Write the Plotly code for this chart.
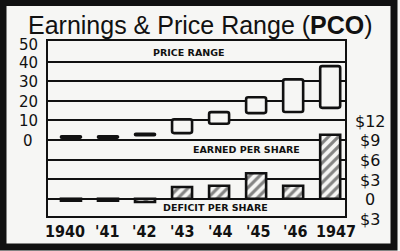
import plotly.graph_objects as go

# ---- data ----
years = ["1940", "'41", "'42", "'43", "'44", "'45", "'46", "1947"]
price_low = [1.2, 1.2, 2.4, 3.5, 8.3, 13.7, 14.3, 16.4]
price_high = [1.9, 1.9, 3.2, 10.5, 14.2, 21.8, 30.9, 37.7]
earnings = [-0.3, -0.3, -0.5, 1.8, 2.0, 3.9, 2.0, 9.8]

price_ticks = [50, 40, 30, 20, 10, 0]
price_tick_text = ["50", "40", "30", "20", "10", "0"]
eps_ticks = [12, 9, 6, 3, 0, -3]
eps_tick_text = ["$12", "$9", "$6", "$3", "0", "$3"]
grid_vals = [-30, -20, -10, 0, 10, 20, 30, 40]

# ---- styling ----
BG = "#f6f6f4"
INK = "#111111"
W, H = 400, 251
L, R, T, B = 48, 55, 41, 35
P_RANGE = [-38.8, 50.5]
E_RANGE = [9 + 0.3 * p for p in P_RANGE]
year_label_shift = [-6, -1, -1, 0, 1, 2, 2, 6]

def px_x(X):
    return (X - L) / (W - L - R)

def px_y(Y):
    return (H - B - Y) / (H - T - B)

def e_to_paper(e):
    return (e - E_RANGE[0]) / (E_RANGE[1] - E_RANGE[0])

xs = list(range(len(years)))

fig = go.Figure()
fig.add_trace(go.Bar(
    x=xs, y=[h - l for h, l in zip(price_high, price_low)], base=price_low,
    width=0.54, yaxis="y",
    marker=dict(color=BG, line=dict(color=INK, width=2.6), cornerradius=2),
    hoverinfo="skip", showlegend=False,
))
fig.add_trace(go.Bar(
    x=xs, y=earnings, width=0.54, yaxis="y2",
    marker=dict(color=BG,
                pattern=dict(shape="/", fgcolor=INK, bgcolor=BG, size=7, solidity=0.45),
                line=dict(color=INK, width=2.6)),
    hoverinfo="skip", showlegend=False,
))

ann = []
ann.append(dict(text="Earnings & Price Range (<b>PCO</b>)", xref="paper", yref="paper",
                x=px_x(200), y=px_y(25), xanchor="center", yanchor="middle",
                showarrow=False, font=dict(family="Liberation Sans, Arial", size=25, color=INK)))
for v, t in zip(price_ticks, price_tick_text):
    ann.append(dict(text=t, xref="paper", yref="y", x=px_x(28), y=v, xanchor="center",
                    yanchor="middle", showarrow=False, yshift=-3 if v == 50 else -1,
                    font=dict(family="DejaVu Sans", size=15, color=INK)))
for v, t in zip(eps_ticks, eps_tick_text):
    ann.append(dict(text=t, xref="paper", yref="paper", x=px_x(370), y=e_to_paper(v),
                    xanchor="center", yanchor="middle", showarrow=False, yshift=-1,
                    font=dict(family="DejaVu Sans", size=16, color=INK)))
for i, t in enumerate(years):
    ann.append(dict(text="<b>" + t + "</b>", xref="x", yref="paper", x=xs[i], y=px_y(231.5),
                    xanchor="center", yanchor="middle", showarrow=False,
                    xshift=year_label_shift[i],
                    font=dict(family="Liberation Sans Narrow, DejaVu Sans Condensed, Arial Narrow",
                              size=16, color=INK)))
for txt, cx, cy in [("PRICE RANGE", 189, 52), ("EARNED PER SHARE", 247, 149.5),
                    ("DEFICIT PER SHARE", 215, 207)]:
    ann.append(dict(text="<b>" + txt + "</b>", xref="paper", yref="paper", x=px_x(cx), y=px_y(cy),
                    xanchor="center", yanchor="middle", showarrow=False,
                    font=dict(family="DejaVu Sans", size=9.5, color=INK)))

fig.update_layout(
    width=W, height=H, margin=dict(l=L, r=R, t=T, b=B, pad=0, autoexpand=False),
    paper_bgcolor=BG, plot_bgcolor=BG, barmode="overlay", showlegend=False,
    xaxis=dict(range=[-0.62, 7.4], tickvals=xs, showticklabels=False, showgrid=False,
               zeroline=False, showline=True, mirror=True, linecolor=INK, linewidth=2,
               ticks="", automargin=False),
    yaxis=dict(range=P_RANGE, tickvals=grid_vals, showticklabels=False, showgrid=True,
               gridcolor=INK, gridwidth=2, zeroline=False, showline=True, mirror=True,
               linecolor=INK, linewidth=2, ticks="", automargin=False),
    yaxis2=dict(range=E_RANGE, overlaying="y", side="right", showgrid=False,
                showticklabels=False, zeroline=False, showline=False, ticks="",
                automargin=False),
    annotations=ann,
    shapes=[dict(type="rect", xref="paper", yref="paper",
                 x0=px_x(3), x1=px_x(394), y0=px_y(247), y1=px_y(2.5),
                 line=dict(color=INK, width=7), fillcolor="rgba(0,0,0,0)", layer="above")],
)

fig.write_html("out.html")
